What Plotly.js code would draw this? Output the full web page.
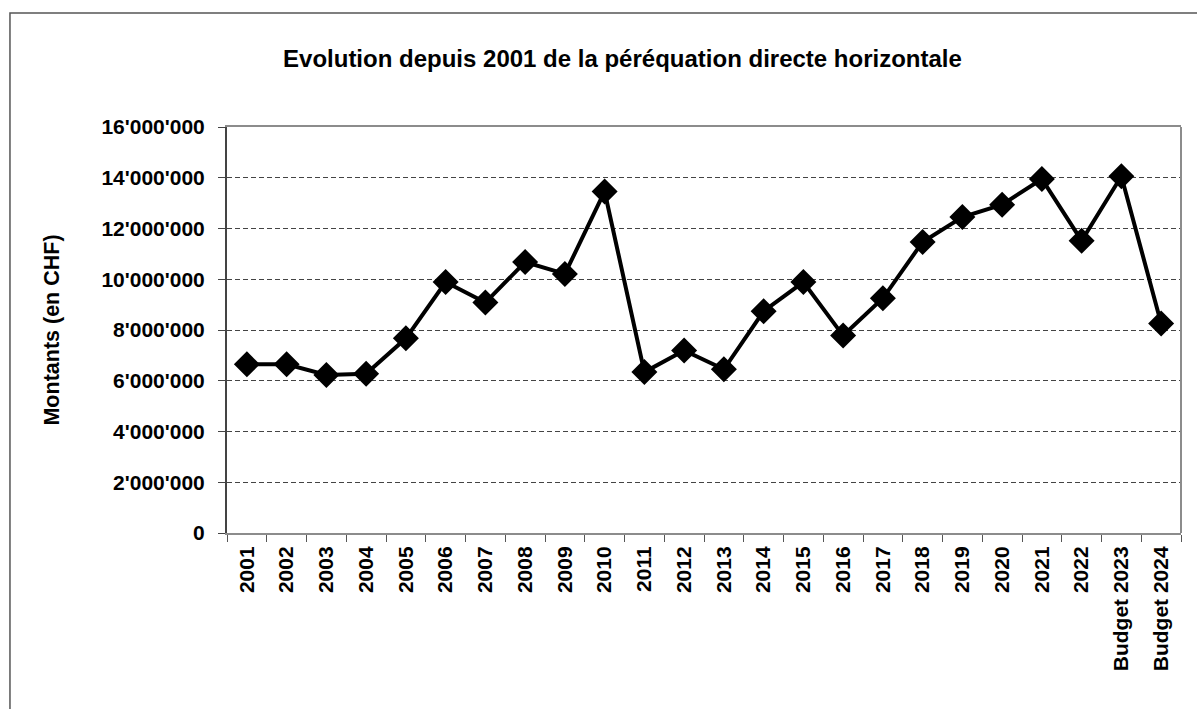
<!DOCTYPE html>
<html>
<head>
<meta charset="utf-8">
<script src="https://cdn.plot.ly/plotly-3.0.1.min.js"></script>
<style>
  body { margin: 0; background: #fff; }
  #chart { width: 1197px; height: 709px; }
</style>
</head>
<body>
<div id="chart"></div>
<script>
// categories (years, last two are budgets)
var years = ["2001", "2002", "2003", "2004", "2005", "2006", "2007", "2008", "2009", "2010",
  "2011", "2012", "2013", "2014", "2015", "2016", "2017", "2018", "2019", "2020",
  "2021", "2022", "Budget 2023", "Budget 2024"];
// amounts in CHF
var amounts = [6650000, 6650000, 6230000, 6280000, 7670000, 9890000, 9080000, 10680000, 10210000, 13460000,
  6340000, 7190000, 6450000, 8740000, 9890000, 7780000, 9250000, 11470000, 12450000, 12940000,
  13950000, 11520000, 14060000, 8260000];
// y axis ticks
var tickValues = [0, 2000000, 4000000, 6000000, 8000000, 10000000, 12000000, 14000000, 16000000];
var tickLabels = ["0", "2'000'000", "4'000'000", "6'000'000", "8'000'000", "10'000'000",
  "12'000'000", "14'000'000", "16'000'000"];

var font = "'Liberation Sans', Arial, sans-serif";

var trace = {
  x: years,
  y: amounts,
  type: "scatter",
  mode: "lines+markers",
  line: {color: "#000", width: 4},
  marker: {symbol: "diamond", size: 20, color: "#000"},
  hoverinfo: "x+y"
};

var layout = {
  width: 1197,
  height: 709,
  margin: {l: 227, r: 16, t: 127, b: 176},
  paper_bgcolor: "#fff",
  plot_bgcolor: "#fff",
  showlegend: false,
  font: {family: font, color: "#000"},
  title: {
    text: "<b>Evolution depuis 2001 de la péréquation directe horizontale</b>",
    font: {family: font, size: 24, color: "#000"},
    xref: "container", yref: "container",
    x: 0.52, xanchor: "center",
    y: 0.918, yanchor: "middle"
  },
  xaxis: {
    type: "category",
    range: [-0.5, years.length - 0.5],
    tickangle: -90,
    tickfont: {family: font, size: 21, color: "#000", weight: "bold"},
    ticks: "outside",
    tickson: "boundaries",
    ticklen: 7,
    tickcolor: "#555",
    ticklabelstandoff: 3,
    showgrid: false,
    showline: true,
    linecolor: "#8c8c8c",
    linewidth: 2,
    mirror: true,
    automargin: false,
    fixedrange: true
  },
  yaxis: {
    range: [0, 16000000],
    tickvals: tickValues,
    ticktext: tickLabels,
    tickfont: {family: font, size: 21, color: "#000", weight: "bold"},
    ticks: "outside",
    ticklen: 7,
    tickcolor: "#444",
    ticklabelstandoff: 9,
    showgrid: true,
    gridcolor: "#444",
    gridwidth: 1,
    griddash: "5px,3px",
    zeroline: false,
    showline: true,
    linecolor: "#444",
    linewidth: 2,
    automargin: false,
    fixedrange: true,
    title: {
      text: "<b>Montants (en CHF)</b>",
      font: {family: font, size: 21.5, color: "#000"},
      standoff: 36
    }
  },
  shapes: [
    // outer frame (left and top edges visible)
    {type: "path", xref: "paper", yref: "paper",
     path: "M -0.2275 -0.6 L -0.2275 1.2808 L 1.3 1.2808",
     line: {color: "#555", width: 1.5}},
    // right border of plot area
    {type: "line", xref: "paper", yref: "paper", x0: 1, x1: 1, y0: 0, y1: 1,
     line: {color: "#8c8c8c", width: 2}}
  ]
};

Plotly.newPlot("chart", [trace], layout, {displayModeBar: false, staticPlot: true});
</script>
</body>
</html>
